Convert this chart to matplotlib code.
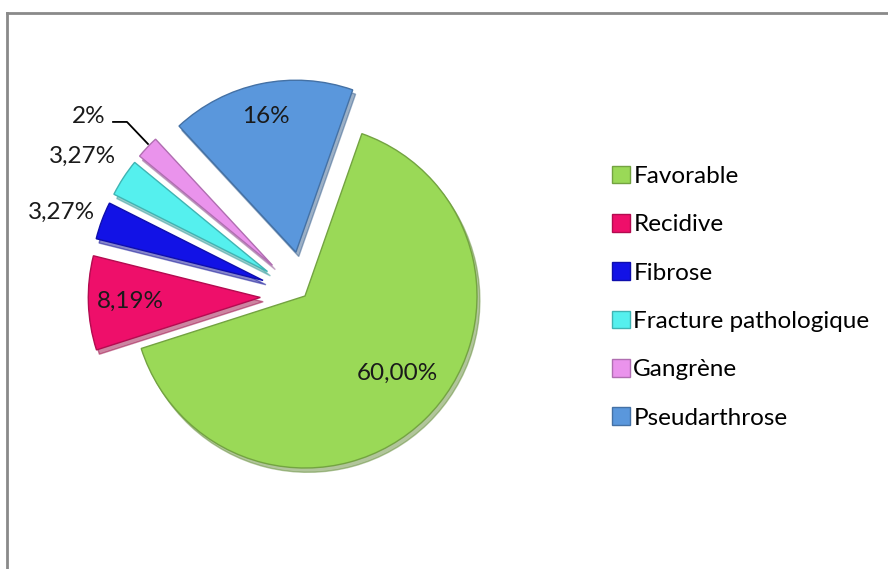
import matplotlib.pyplot as plt
import matplotlib.colors as mcolors
from matplotlib.lines import Line2D

plt.rcParams['font.family'] = ['Lato', 'DejaVu Sans']

# données
categories = ['Favorable', 'Recidive', 'Fibrose', 'Fracture pathologique', 'Gangrène', 'Pseudarthrose']
values = [60.00, 8.19, 3.27, 3.27, 2, 16]
labels = ['60,00%', '8,19%', '3,27%', '3,27%', '2%', '16%']
colors = ['#9ad957', '#ee0f6a', '#1212e6', '#55f0ee', '#ea93ec', '#5a97dc']
explode = [0, 0.26, 0.26, 0.26, 0.26, 0.26]

# positions des étiquettes (rayon = 1)
label_pos = [(0.535, -0.448), (-1.017, -0.029), (-1.413, 0.488),
             (-1.291, 0.814), (-1.256, 1.041), (-0.227, 1.041)]

fig = plt.figure(figsize=(8.88, 5.69), dpi=100)
ax = fig.add_axes([0, 0, 1, 1])

edges = [tuple(c * 0.75 for c in mcolors.to_rgb(col)) for col in colors]
wedges, _ = ax.pie(values, explode=explode, colors=colors, startangle=70.7,
                   counterclock=False,
                   shadow={'ox': 0.012, 'oy': -0.018, 'shade': 0.35},
                   wedgeprops={'linewidth': 1.0})
for w, ec in zip(wedges, edges):
    w.set_edgecolor(ec)

for txt, (x, y) in zip(labels, label_pos):
    ax.text(x, y, txt, ha='center', va='center', fontsize=17.5, color='#1a1a1a')

# trait de rappel pour 2%
ax.plot([-1.116, -1.035, -0.913], [1.012, 1.012, 0.884], color='black', lw=1.3)

ax.set_xlim(-305 / 172, 583 / 172)
ax.set_ylim(-273 / 172, 296 / 172)
ax.axis('off')

leg = ax.legend(wedges, categories, loc='upper left', bbox_to_anchor=(0.665, 0.747),
                frameon=False, fontsize=17.5, handlelength=0.74, handleheight=0.74,
                handletextpad=0.12, labelspacing=1.11)

# cadre gris
fig.add_artist(Line2D([7 / 888, 1], [1 - 13 / 569, 1 - 13 / 569], color='#8a8a8a', lw=2,
                      transform=fig.transFigure))
fig.add_artist(Line2D([7 / 888, 7 / 888], [0, 1 - 13 / 569], color='#8a8a8a', lw=2,
                      transform=fig.transFigure))

fig.savefig('out.png', dpi=100)
